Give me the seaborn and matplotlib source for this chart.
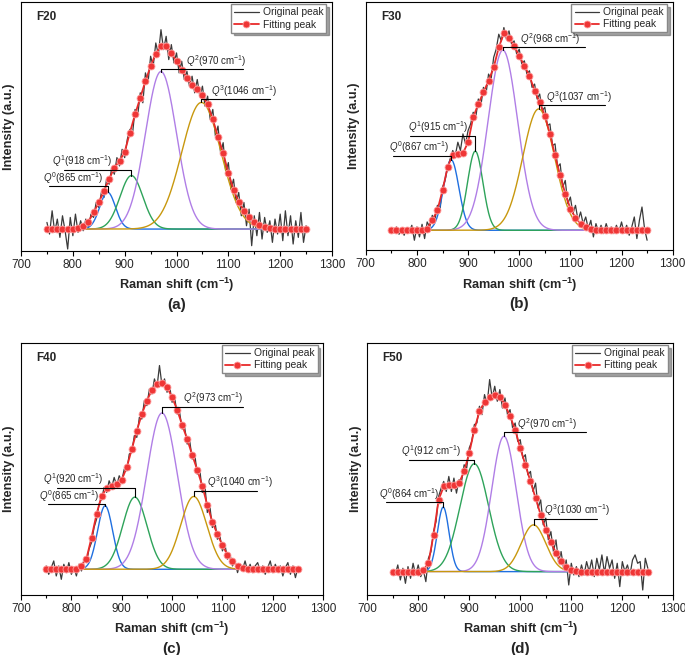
import numpy as np
import seaborn as sns
import matplotlib.pyplot as plt
from matplotlib.ticker import MultipleLocator

# Raman shift grids (cm-1)
raman_x = np.arange(750, 1251, 5)     # original spectrum
fit_x = np.arange(750, 1251, 10)      # fitted curve (marker positions)
comp_x = np.arange(750, 1251, 1)      # grid for gaussian components

# ---- F20 ----
orig_f20 = [20, -15, 55, -10, 30, -25, 40, -5, -60, 35,
            -20, 45, -10, 25, -5, 30, 5, 45, 35, 80,
            65, 110, 95, 150, 135, 185, 165, 215, 190, 240,
            215, 270, 300, 285, 360, 340, 410, 380, 470, 440,
            520, 490, 560, 525, 600, 540, 580, 510, 555, 500,
            530, 470, 505, 450, 475, 430, 460, 410, 450, 400,
            430, 370, 400, 330, 360, 280, 310, 230, 260, 170,
            200, 120, 150, 80, 110, 40, 80, 10, 60, -50,
            40, -20, 50, -30, 35, -10, 25, -40, 30, -15,
            45, -35, 55, -20, 40, -45, 25, -25, 50, -40,
            10]
fit_f20 = [0, 0, 0, 0, 0, 1, 3, 8, 22, 50,
           80, 115, 150, 185, 205, 232, 290, 345, 395, 445,
           490, 528, 550, 552, 530, 505, 480, 455, 435, 422,
           403, 375, 330, 278, 228, 170, 118, 82, 54, 36,
           22, 12, 6, 3, 1, 0, 0, 0, 0, 0,
           0]
centers_f20 = [867, 913, 970, 1048]
heights_f20 = [111, 161, 474, 381]
widths_f20 = [15, 22, 30, 38]
labels_f20 = [865, 918, 970, 1046]

# ---- F30 ----
orig_f30 = [0, -8, 10, -12, 5, -15, 8, -5, 15, -30,
            10, -20, 18, -25, 25, 10, 45, 30, 75, 60,
            130, 150, 190, 215, 240, 225, 265, 240, 290, 260,
            300, 320, 355, 340, 395, 375, 430, 410, 470, 455,
            520, 545, 590, 570, 610, 575, 600, 560, 570, 530,
            545, 500, 510, 470, 480, 430, 440, 395, 410, 360,
            370, 315, 320, 255, 260, 190, 200, 130, 150, 80,
            100, 50, 75, 30, 55, 20, 40, 5, 30, -20,
            20, -5, 15, -10, 20, -5, 10, -10, 15, -5,
            25, -8, 15, -15, 10, 40, -25, 30, 70, 5,
            -30]
fit_f30 = [0, 0, 0, 0, 0, 0, 0, 5, 30, 60,
           120, 190, 228, 230, 232, 265, 340, 380, 415, 450,
           490, 550, 593, 580, 555, 525, 495, 465, 420, 385,
           345, 290, 225, 165, 110, 65, 38, 20, 10, 5,
           2, 0, 0, 0, 0, 0, 0, 0, 0, 0,
           0]
centers_f30 = [867, 914, 968, 1038]
heights_f30 = [212, 238, 542, 365]
widths_f30 = [15, 15, 29, 31]
labels_f30 = [867, 915, 968, 1037]

# ---- F40 ----
orig_f40 = [10, -15, 5, 25, -20, 10, -30, 15, -10, 20,
            -15, 5, -20, 15, -5, 30, 20, 60, 80, 125,
            150, 195, 210, 245, 230, 265, 245, 275, 250, 280,
            265, 300, 295, 345, 350, 400, 395, 455, 450, 505,
            490, 540, 525, 570, 545, 610, 550, 570, 530, 550,
            500, 515, 465, 470, 420, 425, 375, 385, 330, 345,
            285, 300, 230, 255, 170, 190, 125, 145, 90, 100,
            55, 75, 30, 45, 10, 25, -10, 15, 0, 25,
            -5, 15, -10, 10, 20, -5, 10, -15, 5, 25,
            -10, 15, -5, 10, -20, 5, 20, -15, 10, -25,
            5]
fit_f40 = [0, 0, 0, 0, 0, 0, 2, 10, 32, 95,
           165, 220, 242, 250, 256, 268, 305, 360, 415, 465,
           505, 537, 555, 557, 545, 515, 478, 432, 390, 342,
           298, 250, 192, 142, 105, 72, 43, 24, 11, 5,
           2, 0, 0, 0, 0, 0, 0, 0, 0, 0,
           0]
centers_f40 = [867, 926, 980, 1043]
heights_f40 = [190, 216, 468, 218]
widths_f40 = [15, 24, 30.5, 26]
labels_f40 = [865, 920, 973, 1040]

# ---- F50 ----
orig_f50 = [0, -10, 20, -25, 10, -35, 15, -20, 25, -10,
            20, -15, 5, -30, 40, 60, 120, 150, 225, 250,
            270, 240, 285, 240, 280, 235, 275, 270, 320, 310,
            370, 390, 440, 445, 495, 470, 530, 500, 575, 520,
            555, 510, 545, 490, 520, 470, 485, 430, 445, 390,
            395, 340, 350, 290, 300, 240, 265, 190, 215, 140,
            160, 95, 120, 60, 95, 30, 60, 10, 35, -40,
            25, -10, 15, -15, 20, -10, 30, 0, 35, -15,
            40, 5, 50, -5, 45, 10, 35, -20, 25, -45,
            30, 0, 20, -10, 35, 50, 25, 30, -55, 40,
            10]
fit_f50 = [0, 0, 0, 0, 0, 0, 5, 25, 110, 215,
           255, 260, 258, 265, 300, 355, 425, 480, 508, 522,
           530, 524, 500, 465, 425, 370, 320, 270, 220, 170,
           125, 88, 56, 32, 15, 6, 2, 0, 0, 0,
           0, 0, 0, 0, 0, 0, 0, 0, 0, 0,
           0]
centers_f50 = [849, 910, 968, 1026]
heights_f50 = [193, 323, 405, 140]
widths_f50 = [11.5, 28, 24, 24]
labels_f50 = [864, 912, 970, 1030]

sample_names = ['F20', 'F30', 'F40', 'F50']
panel_tags = ['(a)', '(b)', '(c)', '(d)']

sns.set_theme(style='ticks')
plt.rcParams['font.family'] = ['Liberation Sans', 'DejaVu Sans']
plt.rcParams['mathtext.fontset'] = 'custom'
plt.rcParams['mathtext.rm'] = 'Liberation Sans'
plt.rcParams['mathtext.it'] = 'Liberation Sans:italic'
plt.rcParams['mathtext.bf'] = 'Liberation Sans:bold'

comp_colors = ['#1f6fe0', '#2ea35a', '#b07ee6', '#c8980e']

# layout per panel: axes rect, y-limits, annotation (text x, line y, line x0, line x1)
layout = [
    dict(rect=[0.0307, 0.6168, 0.454, 0.380], ylim=(-66, 683),
         ann=[(742, 129, 754, 867), (759, 179, 782, 913),
              (1019, 481, 970, 1128), (1066, 390, 1048, 1180)]),
    dict(rect=[0.534, 0.618, 0.448, 0.379], ylim=(-60, 687),
         ann=[(746, 224, 754, 867), (782, 285, 787, 914),
              (1001, 550, 968, 1129), (1052, 376, 1038, 1168)]),
    dict(rect=[0.0307, 0.0916, 0.441, 0.385], ylim=(-77, 678),
         ann=[(735, 194, 754, 867), (744, 243, 771, 926),
              (1022, 486, 980, 1140), (1070, 235, 1043, 1169)]),
    dict(rect=[0.536, 0.0916, 0.447, 0.385], ylim=(-70, 685),
         ann=[(723, 207, 736, 849), (767, 335, 782, 910),
              (994, 417, 968, 1128), (1046, 158, 1026, 1151)]),
]

panels = [
    (orig_f20, fit_f20, centers_f20, heights_f20, widths_f20, labels_f20),
    (orig_f30, fit_f30, centers_f30, heights_f30, widths_f30, labels_f30),
    (orig_f40, fit_f40, centers_f40, heights_f40, widths_f40, labels_f40),
    (orig_f50, fit_f50, centers_f50, heights_f50, widths_f50, labels_f50),
]


def gauss(x, c, h, w):
    return h * np.exp(-(x - c) ** 2 / (2 * w ** 2))


fig = plt.figure(figsize=(6.85, 6.55), dpi=100)

for i, (orig, fit, cen, hgt, wid, lab) in enumerate(panels):
    lay = layout[i]
    ax = fig.add_axes(lay['rect'])

    sns.lineplot(x=raman_x, y=orig, ax=ax, color='#3a3a3a', lw=0.9,
                 label='Original peak')
    for k in range(4):
        sns.lineplot(x=comp_x, y=gauss(comp_x, cen[k], hgt[k], wid[k]),
                     ax=ax, color=comp_colors[k], lw=1.0, legend=False)
    sns.lineplot(x=fit_x, y=fit, ax=ax, color='#e82a2a', lw=1.3,
                 marker='o', markersize=5, markerfacecolor='#ef3636',
                 markeredgecolor='#ffa0a0', markeredgewidth=0.6,
                 label='Fitting peak')

    # peak annotations
    for k, (tx, ly, x0, x1) in enumerate(lay['ann']):
        ax.plot([x0, x1], [ly, ly], color='black', lw=0.8)
        ax.plot([cen[k], cen[k]], [ly, hgt[k]], color='black', lw=0.8)
        ax.text(tx, ly + 2, rf'$Q^{{{k}}}$({lab[k]} cm$^{{-1}}$)',
                fontsize=7.0, ha='left', va='bottom')

    ax.set_xlim(700, 1300)
    ax.set_ylim(*lay['ylim'])
    ax.set_xticks(range(700, 1301, 100))
    ax.xaxis.set_minor_locator(MultipleLocator(50))
    ax.set_yticks([])
    ax.tick_params(axis='x', which='major', direction='out', length=3.5,
                   width=0.8, labelsize=8.5, pad=2, color='black')
    ax.tick_params(axis='x', which='minor', direction='out', length=2,
                   width=0.8, color='black')
    for s in ax.spines.values():
        s.set_visible(True)
        s.set_color('black')
        s.set_linewidth(0.8)

    ax.set_xlabel(r'Raman shift (cm$^{\mathbf{-1}}$)', fontsize=9.2,
                  fontweight='bold', labelpad=4)
    ax.set_ylabel('Intensity (a.u.)', fontsize=9.2, fontweight='bold',
                  labelpad=4)
    ax.text(0.05, 0.94, sample_names[i], transform=ax.transAxes,
            fontsize=8.5, fontweight='bold', va='center', ha='left')
    ax.text(0.5, -0.215, panel_tags[i], transform=ax.transAxes,
            fontsize=11, fontweight='bold', va='center', ha='center')

    lines = ax.get_lines()
    ax.legend([lines[0], lines[5]], ['Original peak', 'Fitting peak'],
              loc='upper right', bbox_to_anchor=(0.985, 0.995),
              fontsize=7.4, frameon=True, shadow=True,
              fancybox=False, edgecolor='#888888', framealpha=1,
              borderaxespad=0.1, borderpad=0.3, labelspacing=0.2,
              handlelength=2.4, handletextpad=0.4)

fig.savefig('out.png', dpi=100)
